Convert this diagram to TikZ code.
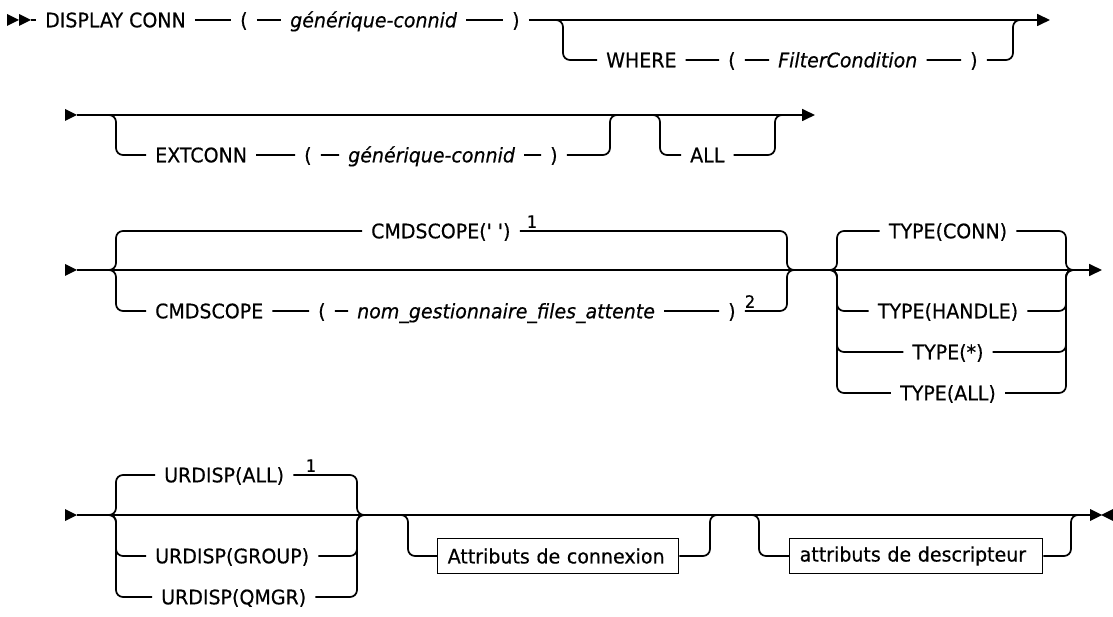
\documentclass[tikz,border=0pt]{standalone}
\usepackage{fontspec}
\setmainfont{DejaVu Sans}[Ligatures=TeXOff,FakeStretch=0.95,FakeBold=0.5]
\usetikzlibrary{arrows.meta}
\tikzset{
  rail/.style={line width=1.7pt,rounded corners=7pt},
  tipend/.style={-{Triangle[length=13pt,width=12pt]}},
  tok/.style={anchor=west,inner xsep=9pt,inner ysep=0pt,text height=14.6pt,text depth=0pt,font=\fontsize{20}{24}\selectfont},
  var/.style={tok,font=\fontsize{20}{24}\selectfont\itshape},
  alt/.style={tok,anchor=center},
  note/.style={anchor=south,inner sep=1pt,font=\fontsize{17}{20}\selectfont},
  attr/.style={draw,line width=1.4pt,anchor=west,inner xsep=10pt,minimum height=35pt,align=left,font=\fontsize{20}{24}\selectfont}
}
\begin{document}
\begin{tikzpicture}[x=1pt,y=-1pt]
\useasboundingbox(0,0)rectangle(1113,617);
% row 1
\fill(7,14)--(19,20)--(7,26)--cycle;
\fill(19,14)--(31,20)--(19,26)--cycle;
\coordinate(start1)at(31,20);
\node[tok](disp)at(36,20){DISPLAY CONN};
\node[tok](lpa)at(231,20){(};
\node[var](gen1)at(281,20){générique-connid};
\node[tok](rpa)at(503,20){)};
\coordinate(end1)at(1050,20);
\draw[rail](start1)--(disp)--(lpa)--(gen1)--(rpa);
\draw[rail,tipend](rpa)--(end1);
\coordinate(fork1)at(555,20);
\coordinate(join1)at(1021,20);
\node[tok](where)at(597,60){WHERE};
\node[tok](lpb)at(719,60){(};
\node[var](filt)at(769,60){FilterCondition};
\node[tok](rpb)at(961,60){)};
\draw[rail](fork1)-|(563,60)--(where)--(lpb)--(filt)--(rpb)--(1013,60)--(1013,20)--(join1);
% row starts
\foreach \y in {115,270,515}\fill(65,\y-6)--(77,\y)--(65,\y+6)--cycle;
% row 2
\coordinate(start2)at(77,115);
\coordinate(fork2)at(108,115);
\coordinate(join2)at(618,115);
\coordinate(fork3)at(652,115);
\coordinate(join3)at(783,115);
\coordinate(end2)at(815,115);
\node[tok](ext)at(146,155){EXTCONN};
\node[tok](lpc)at(295,155){(};
\node[var](gen2)at(339,155){générique-connid};
\node[tok](rpc)at(541,155){)};
\node[tok](all)at(681,155){ALL};
\draw[rail,tipend](start2)--(end2);
\draw[rail](fork2)-|(116,155)--(ext)--(lpc)--(gen2)--(rpc)--(610,155)--(610,115)--(join2);
\draw[rail](fork3)-|(660,155)--(all)--(775,155)--(775,115)--(join3);
% row 3
\coordinate(start3)at(77,270);
\coordinate(fork4)at(108,270);
\coordinate(join4)at(795,270);
\coordinate(fork5)at(829,270);
\coordinate(join5)at(1073,270);
\coordinate(end3)at(1102,270);
\node[tok](cmdq)at(362,231){CMDSCOPE(' ')};
\node[note](n1a)at(532,229){1};
\node[tok](cmdk)at(146,311){CMDSCOPE};
\node[tok](lpe)at(309,311){(};
\node[var](nom)at(348,311){nom\_gestionnaire\_files\_attente};
\node[tok](rpe)at(719,311){)};
\node[note](n2)at(750,309){2};
\draw[rail,tipend](start3)--(end3);
\draw[rail](fork4)-|(116,231)--(cmdq)--(787,231)--(787,270)--(join4);
\draw[rail](fork4)-|(116,311)--(cmdk)--(lpe)--(nom)--(rpe)--(787,311)--(787,270)--(join4);
\node[alt](tcon)at(948,231){TYPE(CONN)};
\draw[rail](fork5)-|(837,231)--(tcon)--(1066,231)--(1066,270)--(join5);
\foreach \nm/\y/\txt in {thdl/311/TYPE(HANDLE),tany/352/TYPE(*),tall/393/TYPE(ALL)}{
  \node[alt](\nm)at(948,\y){\txt};
  \draw[rail](fork5)-|(837,\y)--(\nm)--(1066,\y)--(1066,270)--(join5);
}
% row 4
\coordinate(start4)at(77,515);
\coordinate(fork6)at(108,515);
\coordinate(join6)at(365,515);
\coordinate(fork7)at(400,515);
\coordinate(join7)at(718,515);
\coordinate(fork8)at(751,515);
\coordinate(join8)at(1079,515);
\coordinate(end4)at(1091,515);
\node[tok](uall)at(155,475){URDISP(ALL)};
\node[note](n1b)at(311,473){1};
\draw[rail](start4)--(end4);
\draw[rail](fork6)-|(116,475)--(uall)--(357,475)--(357,515)--(join6);
\foreach \nm/\y/\x/\txt in {ugrp/556/146/URDISP(GROUP),uqmg/597/152/URDISP(QMGR)}{
  \node[tok](\nm)at(\x,\y){\txt};
  \draw[rail](fork6)-|(116,\y)--(\nm)--(357,\y)--(357,515)--(join6);
}
\node[attr,text width=221pt](cattr)at(437,556){Attributs de connexion};
\node[attr,text width=233pt](hattr)at(789,556){attributs de descripteur};
\draw[rail](fork7)-|(408,556)--(cattr)--(710,556)--(710,515)--(join7);
\draw[rail](fork8)-|(759,556)--(hattr)--(1071,556)--(1071,515)--(join8);
\fill(1090,509)--(1102,515)--(1090,521)--cycle;
\fill(1113,509)--(1101,515)--(1113,521)--cycle;
\end{tikzpicture}
\end{document}
